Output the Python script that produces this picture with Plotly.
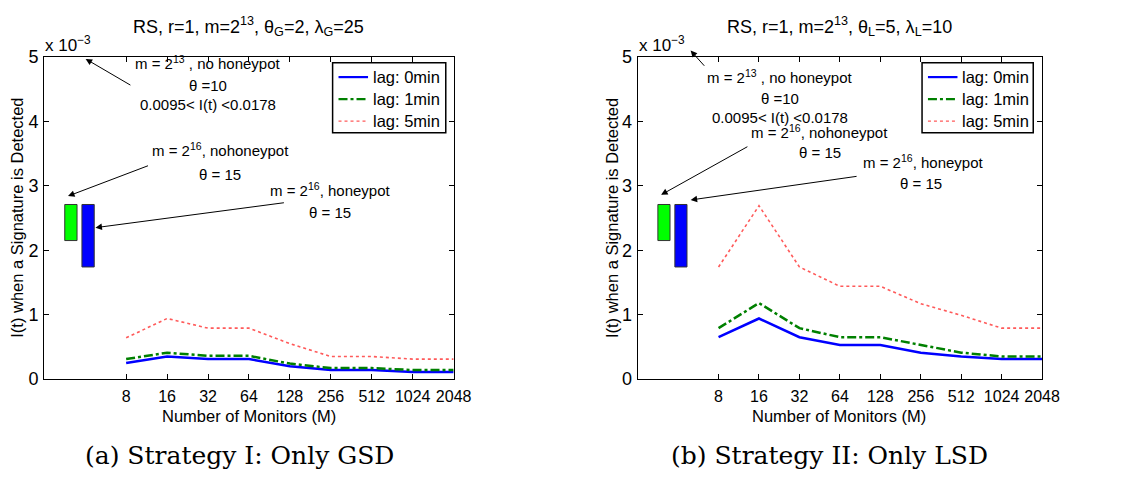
import numpy as np
import plotly.graph_objects as go

# ---------------- data ----------------
monitors = [8, 16, 32, 64, 128, 256, 512, 1024, 2048]
tick_labels = ["8", "16", "32", "64", "128", "256", "512", "1024", "2048"]
series_names = ["lag: 0min", "lag: 1min", "lag: 5min"]

# values in units of 1e-3
gsd_lag0 = [0.25, 0.35, 0.31, 0.31, 0.20, 0.14, 0.14, 0.11, 0.11]
gsd_lag1 = [0.31, 0.41, 0.36, 0.36, 0.24, 0.17, 0.17, 0.14, 0.14]
gsd_lag5 = [0.64, 0.94, 0.79, 0.79, 0.55, 0.35, 0.35, 0.31, 0.31]

lsd_lag0 = [0.65, 0.94, 0.65, 0.53, 0.53, 0.41, 0.35, 0.31, 0.31]
lsd_lag1 = [0.79, 1.18, 0.79, 0.65, 0.65, 0.53, 0.41, 0.35, 0.35]
lsd_lag5 = [1.74, 2.69, 1.74, 1.44, 1.44, 1.17, 0.99, 0.79, 0.79]

# reference bars (log2 M extent, value extent in 1e-3)
green_bar_x = [1.50, 1.80]
green_bar_y = [2.15, 2.71]
blue_bar_x = [1.92, 2.22]
blue_bar_y = [1.74, 2.71]

x_vals = np.log2(monitors)
tick_vals = np.log2(monitors)

W, H = 1128, 483
FONT = "Liberation Sans, Arial, sans-serif"

def px(x):
    return x / W

def py(y):
    return 1 - y / H

colors = ["#0000ff", "#008000", "rgb(255,90,90)"]
dashes = ["solid", "dashdot", "dot"]
widths = [2.5, 2.5, 1.6]

fig = go.Figure()

for i, (ys, name) in enumerate(zip([gsd_lag0, gsd_lag1, gsd_lag5], series_names)):
    fig.add_trace(go.Scatter(x=x_vals, y=ys, mode="lines", name=name, showlegend=False,
                             line=dict(color=colors[i], dash=dashes[i], width=widths[i]),
                             xaxis="x", yaxis="y"))
for i, (ys, name) in enumerate(zip([lsd_lag0, lsd_lag1, lsd_lag5], series_names)):
    fig.add_trace(go.Scatter(x=x_vals, y=ys, mode="lines", name=name, showlegend=False,
                             line=dict(color=colors[i], dash=dashes[i], width=widths[i]),
                             xaxis="x2", yaxis="y2"))

axis_common = dict(showline=True, linecolor="black", linewidth=1.2, mirror="allticks",
                   ticks="inside", ticklen=5, tickcolor="black", showgrid=False,
                   zeroline=False)

xdom1 = [px(45), px(461)]
xdom2 = [px(648), px(1059)]
ydom = [py(385), py(49)]

fig.update_layout(
    width=W, height=H, margin=dict(l=0, r=0, t=0, b=0),
    plot_bgcolor="white", paper_bgcolor="white",
    font=dict(family=FONT, color="black"),
    showlegend=False,
    xaxis=dict(domain=xdom1, range=[1, 11], tickvals=tick_vals, ticktext=tick_labels,
               tickangle=0, tickfont=dict(size=16), ticklabelstandoff=3, anchor="y",
               **axis_common),
    yaxis=dict(domain=ydom, range=[0, 5], tickvals=[0, 1, 2, 3, 4, 5],
               tickfont=dict(size=18), ticklabelstandoff=1, anchor="x", **axis_common),
    xaxis2=dict(domain=xdom2, range=[1, 11], tickvals=tick_vals, ticktext=tick_labels,
                tickangle=0, tickfont=dict(size=16), ticklabelstandoff=3, anchor="y2",
                **axis_common),
    yaxis2=dict(domain=ydom, range=[0, 5], tickvals=[0, 1, 2, 3, 4, 5],
                tickfont=dict(size=18), ticklabelstandoff=1, anchor="x2", **axis_common),
)

# bars
for xr, yr in [("x", "y"), ("x2", "y2")]:
    fig.add_shape(type="rect", xref=xr, yref=yr, x0=green_bar_x[0], x1=green_bar_x[1],
                  y0=green_bar_y[0], y1=green_bar_y[1], fillcolor="#00ff00",
                  line=dict(color="#333333", width=1))
    fig.add_shape(type="rect", xref=xr, yref=yr, x0=blue_bar_x[0], x1=blue_bar_x[1],
                  y0=blue_bar_y[0], y1=blue_bar_y[1], fillcolor="#0000ff",
                  line=dict(color="#333333", width=1))

# legends (drawn boxes with line samples)
def legend_box(left, right, top, bottom, sample_x0, sample_x1, text_x, rows):
    fig.add_shape(type="rect", xref="paper", yref="paper", x0=px(left), x1=px(right),
                  y0=py(bottom), y1=py(top), fillcolor="white",
                  line=dict(color="black", width=1.5), layer="above")
    for i, yrow in enumerate(rows):
        fig.add_shape(type="line", xref="paper", yref="paper", x0=px(sample_x0),
                      x1=px(sample_x1), y0=py(yrow), y1=py(yrow), layer="above",
                      line=dict(color=colors[i], dash=dashes[i], width=widths[i] - 0.3))
        fig.add_annotation(xref="paper", yref="paper", x=px(text_x), y=py(yrow),
                           text=series_names[i], showarrow=False, xanchor="left",
                           yanchor="middle", font=dict(size=16.5, family=FONT))

legend_rows = [70, 93, 116]
legend_box(338, 453, 55, 128, 344, 374, 377, legend_rows)
legend_box(937, 1050, 55, 128, 943, 973, 976, legend_rows)

def text_ann(xr, yr, x, y, text, size=15):
    fig.add_annotation(xref=xr, yref=yr, x=x, y=y, text=text, showarrow=False,
                       font=dict(size=size, family=FONT), xanchor="center", yanchor="middle")

def arrow(xr, yr, tail, head):
    fig.add_annotation(xref=xr, yref=yr, axref=xr, ayref=yr, x=head[0], y=head[1],
                       ax=tail[0], ay=tail[1], text="", showarrow=True, arrowhead=2,
                       arrowsize=1.3, arrowwidth=1, arrowcolor="black", standoff=0)

# left annotations
text_ann("x", "y", 5.01, 4.92, "m = 2<sup>13</sup> , no honeypot")
text_ann("x", "y", 5.01, 4.55, "θ =10")
text_ann("x", "y", 5.01, 4.26, "0.0095&lt; I(t) &lt;0.0178")
text_ann("x", "y", 5.30, 3.56, "m = 2<sup>16</sup>, nohoneypot")
text_ann("x", "y", 5.30, 3.17, "θ = 15")
text_ann("x", "y", 8.00, 2.95, "m = 2<sup>16</sup>, honeypot")
text_ann("x", "y", 7.98, 2.59, "θ = 15")
arrow("x", "y", (3.14, 4.55), (2.01, 4.97))
arrow("x", "y", (3.57, 3.32), (1.58, 2.84))
arrow("x", "y", (6.89, 2.74), (2.25, 2.35))

# right annotations
text_ann("x2", "y2", 4.53, 4.70, "m = 2<sup>13</sup> , no honeypot")
text_ann("x2", "y2", 4.53, 4.36, "θ =10")
text_ann("x2", "y2", 4.53, 4.06, "0.0095&lt; I(t) &lt;0.0178")
text_ann("x2", "y2", 5.50, 3.84, "m = 2<sup>16</sup>, nohoneypot")
text_ann("x2", "y2", 5.50, 3.51, "θ = 15")
text_ann("x2", "y2", 8.08, 3.38, "m = 2<sup>16</sup>, honeypot")
text_ann("x2", "y2", 8.01, 3.03, "θ = 15")
arrow("x2", "y2", (2.68, 4.84), (2.31, 5.10))
arrow("x2", "y2", (3.75, 3.62), (1.58, 2.86))
arrow("x2", "y2", (6.45, 3.15), (2.31, 2.78))

def paper_text(x, y, text, size, family=FONT, angle=0, xanchor="center"):
    fig.add_annotation(xref="paper", yref="paper", x=px(x), y=py(y), text=text,
                       showarrow=False, textangle=angle, xanchor=xanchor, yanchor="middle",
                       font=dict(size=size, family=family, color="black"))

# titles
paper_text(253, 17, "RS, r=1, m=2<sup>13</sup>, θ<sub>G</sub>=2, λ<sub>G</sub>=25", 18)
paper_text(853, 17, "RS, r=1, m=2<sup>13</sup>, θ<sub>L</sub>=5, λ<sub>L</sub>=10", 18)
# exponent labels
paper_text(44, 35, "x 10<sup>−3</sup>", 17, xanchor="left")
paper_text(647, 35, "x 10<sup>−3</sup>", 17, xanchor="left")
# axis titles
paper_text(17, 217, "I(t) when a Signature is Detected", 16.5, angle=-90)
paper_text(622, 217, "I(t) when a Signature is Detected", 16.5, angle=-90)
paper_text(253, 424, "Number of Monitors (M)", 16.5)
paper_text(853, 424, "Number of Monitors (M)", 16.5)
# captions
SERIF = "DejaVu Serif"
paper_text(243, 465, "(a) Strategy I: Only GSD", 25, family=SERIF)
paper_text(843, 465, "(b) Strategy II: Only LSD", 25, family=SERIF)

fig.write_html("out.html")
